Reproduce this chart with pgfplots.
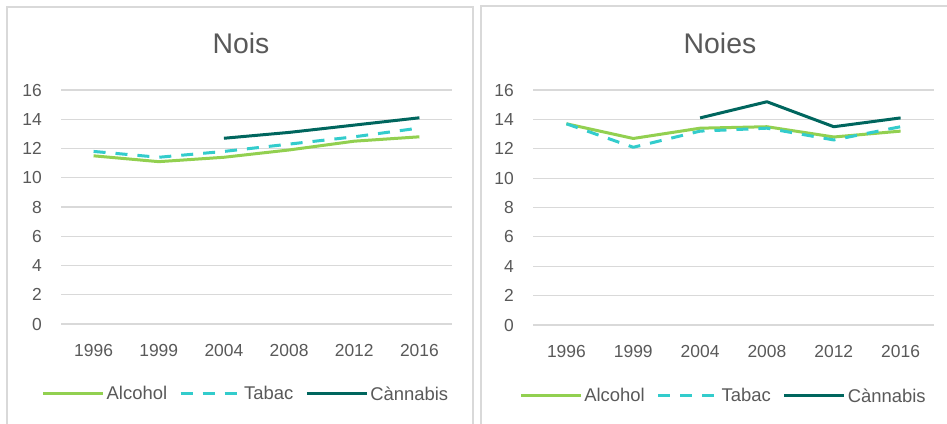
\documentclass[border=0pt]{standalone}
\usepackage{pgfplots}
\pgfplotsset{compat=1.18}
\usepackage{fontspec}
\setmainfont{Liberation Sans}

\definecolor{txt}{HTML}{595959}
\definecolor{gridc}{HTML}{D9D9D9}
\definecolor{frame}{HTML}{D9D9D9}
\definecolor{alc}{HTML}{92D050}
\definecolor{tab}{HTML}{33CCCC}
\definecolor{can}{HTML}{00665E}

\pgfplotsset{
  panel/.style={
    scale only axis,
    anchor=south west,
    xmin=-0.5, xmax=5.5,
    ymin=0, ymax=16,
    ytick={0,2,...,16},
    xtick={0,...,5},
    xticklabels={1996,1999,2004,2008,2012,2016},
    ymajorgrids,
    major grid style={draw=gridc, line width=1.2bp},
    axis line style={draw=none},
    major tick length=0pt,
    /pgf/number format/assume math mode=true,
    tick label style={font=\fontsize{17.5}{20}\selectfont, text=txt},
    xticklabel style={inner sep=0pt, yshift=-20bp},
    yticklabel style={inner sep=0pt, xshift=-19bp},
    clip=false,
    legend columns=3,
    legend style={draw=none, fill=none, font=\fontsize{18.5}{22}\selectfont,
      text=txt, anchor=center,
      /tikz/every even column/.append style={column sep=10bp}},
    legend image code/.code={\draw[##1] (0bp,0bp) -- (60bp,0bp);},
  },
  alcohol/.style={color=alc, line width=3bp, line join=round, no markers},
  tabac/.style={color=tab, line width=3bp, dash pattern=on 12bp off 10bp, line join=round, no markers},
  cannabis/.style={color=can, line width=3bp, line join=round, no markers},
}

\begin{document}
\begin{tikzpicture}[x=1bp, y=1bp]
\useasboundingbox (0,0) rectangle (947,423);
\clip (0,0) rectangle (947,423);
\fill[white] (0,0) rectangle (947,423);

% chart frames
\draw[frame, line width=1.2bp] (7,-10) rectangle (473,416);
\draw[frame, line width=1.2bp] (481,-10) rectangle (960,417);

% Nois
\begin{axis}[panel, at={(61bp,99bp)}, width=391bp, height=234bp,
  legend style={at={(0.473,-0.299)}}]
\addplot[alcohol] coordinates {(0,11.5) (1,11.1) (2,11.4) (3,11.9) (4,12.5) (5,12.8)};
\addlegendentry{Alcohol}
\addplot[tabac] coordinates {(0,11.8) (1,11.4) (2,11.8) (3,12.3) (4,12.8) (5,13.4)};
\addlegendentry{Tabac}
\addplot[cannabis] coordinates {(2,12.7) (3,13.1) (4,13.6) (5,14.1)};
\addlegendentry{Cànnabis}
\end{axis}

% Noies
\begin{axis}[panel, at={(533bp,98bp)}, width=401bp, height=235bp,
  legend style={at={(0.475,-0.302)}}]
\addplot[alcohol] coordinates {(0,13.7) (1,12.7) (2,13.4) (3,13.5) (4,12.8) (5,13.2)};
\addlegendentry{Alcohol}
\addplot[tabac] coordinates {(0,13.7) (1,12.1) (2,13.2) (3,13.4) (4,12.6) (5,13.5)};
\addlegendentry{Tabac}
\addplot[cannabis] coordinates {(2,14.1) (3,15.2) (4,13.5) (5,14.1)};
\addlegendentry{Cànnabis}
\end{axis}

% titles
\node[font=\fontsize{28.5}{34}\selectfont, text=txt] at (241,380) {Nois};
\node[font=\fontsize{28.5}{34}\selectfont, text=txt] at (720,380) {Noies};
\end{tikzpicture}
\end{document}
